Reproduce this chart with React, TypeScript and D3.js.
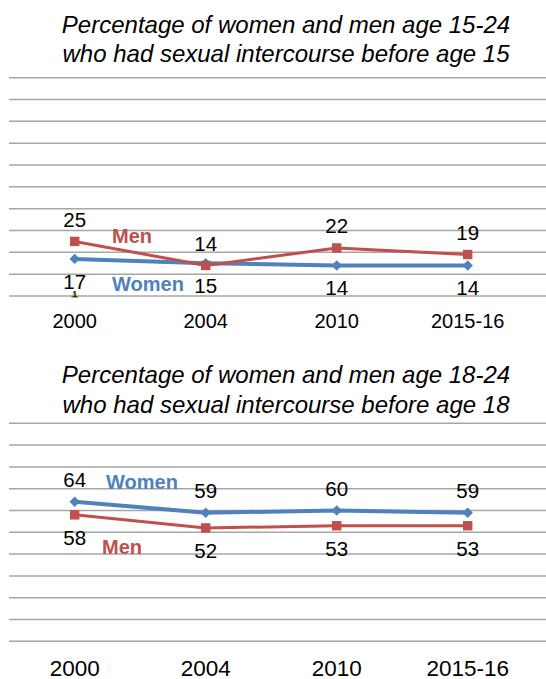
import React from "react";
import * as d3 from "d3";

const years = ["2000", "2004", "2010", "2015-16"];
const yTicks = [0, 10, 20, 30, 40, 50, 60, 70, 80, 90, 100];

const chart1Title = ["Percentage of women and men age 15-24", "who had sexual intercourse before age 15"];
const chart1Women = [17, 15, 14, 14];
const chart1Men = [25, 14, 22, 19];
const chart1Other = [1];

const chart2Title = ["Percentage of women and men age 18-24", "who had sexual intercourse before age 18"];
const chart2Women = [64, 59, 60, 59];
const chart2Men = [58, 52, 53, 53];

const BLUE = "#4F81BD";
const RED = "#C0504D";
const GREEN = "#9BBB59";
const FONT = "'Liberation Sans', Arial, Helvetica, sans-serif";

type Series = { name: string; values: number[]; color: string; shape: "square" | "diamond"; width: number; nameX: number; nameY: number };
type PanelProps = {
  title: string[];
  titleY: number[];
  top: number;
  bottom: number;
  axisY: number;
  axisFont: number;
  upper: Series;
  lower: Series;
  other?: number[];
};

function Panel(p: PanelProps) {
  const x = d3.scaleBand<string>().domain(years).range([9.2, 533.2]);
  const cx = (d: string) => (x(d) as number) + x.bandwidth() / 2;
  const y = d3.scaleLinear().domain([0, 100]).range([p.bottom, p.top]);
  const line = d3
    .line<number>()
    .x((_, i) => cx(years[i]))
    .y((v) => y(v));
  const drawSeries = (s: Series, labelAbove: boolean) => (
    <g>
      <path d={line(s.values) as string} fill="none" stroke={s.color} strokeWidth={s.width} strokeLinejoin="round" />
      {s.values.map((v, i) => {
        const px = cx(years[i]);
        const py = y(v);
        return s.shape === "square" ? (
          <rect key={"m" + i} x={px - 4.7} y={py - 4.7} width={9.4} height={9.4} fill={s.color} />
        ) : (
          <path key={"m" + i} d={`M${px},${py - 5.2}L${px + 5.2},${py}L${px},${py + 5.2}L${px - 5.2},${py}Z`} fill={s.color} />
        );
      })}
      {s.values.map((v, i) => (
        <text
          key={"l" + i}
          x={cx(years[i])}
          y={y(v) + (labelAbove ? -14.8 : 30)}
          textAnchor="middle"
          fontSize={20.5}
          fill="#000"
        >
          {v}
        </text>
      ))}
      <text x={s.nameX} y={s.nameY} fontSize={20} fontWeight="bold" fill={s.color}>
        {s.name}
      </text>
    </g>
  );
  return (
    <g fontFamily={FONT}>
      {p.title.map((t, i) => (
        <text key={i} x={286} y={p.titleY[i]} textAnchor="middle" fontSize={24} fontStyle="italic" fill="#000">
          {t}
        </text>
      ))}
      {yTicks.map((t) => (
        <line key={t} x1={9} x2={546} y1={y(t)} y2={y(t)} stroke="#A6A6A6" strokeWidth={1.5} />
      ))}
      {p.other &&
        p.other.map((v, i) => {
          const px = cx(years[i]);
          const py = y(0);
          return (
            <g key={"o" + i}>
              <path d={`M${px},${py - 4}L${px + 4},${py + 2}L${px - 4},${py + 2}Z`} fill={GREEN} />
              <text x={px} y={py + 1} textAnchor="middle" fontSize={9} fontWeight="bold" fill="#222">
                {v}
              </text>
            </g>
          );
        })}
      {drawSeries(p.lower, false)}
      {drawSeries(p.upper, true)}
      {years.map((yr) => (
        <text key={yr} x={cx(yr)} y={p.axisY} textAnchor="middle" fontSize={p.axisFont} fill="#000">
          {yr}
        </text>
      ))}
    </g>
  );
}

export default function App() {
  return (
    <svg width={546} height={679} style={{ position: "absolute", left: 0, top: 0, background: "#fff" }}>
      <rect width={546} height={679} fill="#fff" />
      <Panel
        title={chart1Title}
        titleY={[33, 62]}
        top={77.7}
        bottom={296}
        axisY={327.5}
        axisFont={20}
        other={chart1Other}
        lower={{ name: "Women", values: chart1Women, color: BLUE, shape: "diamond", width: 4, nameX: 112, nameY: 290.7 }}
        upper={{ name: "Men", values: chart1Men, color: RED, shape: "square", width: 3, nameX: 112, nameY: 242.7 }}
      />
      <Panel
        title={chart2Title}
        titleY={[383, 413]}
        top={423.3}
        bottom={641.3}
        axisY={676}
        axisFont={22.5}
        upper={{ name: "Women", values: chart2Women, color: BLUE, shape: "diamond", width: 4, nameX: 106, nameY: 489 }}
        lower={{ name: "Men", values: chart2Men, color: RED, shape: "square", width: 3, nameX: 102, nameY: 554 }}
      />
    </svg>
  );
}
